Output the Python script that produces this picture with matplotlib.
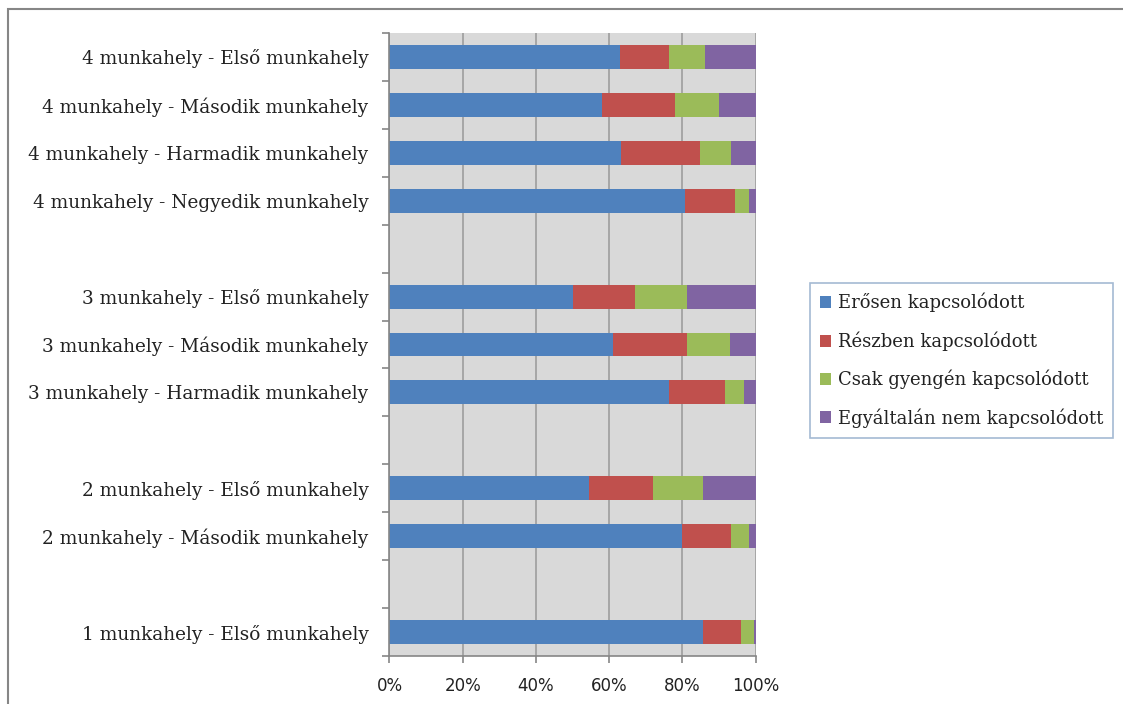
import matplotlib.pyplot as plt
import matplotlib.patches as patches
from matplotlib.ticker import PercentFormatter
import numpy as np

# Categories top to bottom ('' = empty separator row)
categories = [
    '4 munkahely - Első munkahely',
    '4 munkahely - Második munkahely',
    '4 munkahely - Harmadik munkahely',
    '4 munkahely - Negyedik munkahely',
    '',
    '3 munkahely - Első munkahely',
    '3 munkahely - Második munkahely',
    '3 munkahely - Harmadik munkahely',
    '',
    '2 munkahely - Első munkahely',
    '2 munkahely - Második munkahely',
    '',
    '1 munkahely - Első munkahely',
]

# Share of answers (%) per category
erosen = [62.9, 58.0, 63.1, 80.8, 0, 50.1, 61.0, 76.3, 0, 54.5, 79.8, 0, 85.6]
reszben = [13.4, 20.0, 21.6, 13.5, 0, 17.0, 20.2, 15.4, 0, 17.4, 13.6, 0, 10.3]
gyengen = [10.0, 12.1, 8.7, 3.9, 0, 14.1, 11.9, 5.2, 0, 13.7, 4.8, 0, 3.6]
egyaltalan = [13.7, 9.9, 6.6, 1.8, 0, 18.8, 6.9, 3.1, 0, 14.4, 1.8, 0, 0.5]

series_names = ['Erősen kapcsolódott', 'Részben kapcsolódott',
                'Csak gyengén kapcsolódott', 'Egyáltalán nem kapcsolódott']
colors = ['#4F81BD', '#C0504D', '#9BBB59', '#8064A2']

fig = plt.figure(figsize=(11.23, 7.04), dpi=100)
ax = fig.add_axes([0.3468, 0.0682, 0.3261, 0.8849])

y = np.arange(len(categories))
left = np.zeros(len(categories))
for name, vals, col in zip(series_names, [erosen, reszben, gyengen, egyaltalan], colors):
    vals = np.array(vals, dtype=float)
    ax.barh(y, vals, left=left, height=0.5, color=col, label=name)
    left += vals

ax.set_facecolor('#D9D9D9')
ax.set_xlim(0, 100)
ax.set_ylim(len(categories) - 0.5, -0.5)
ax.set_axisbelow(True)
ax.grid(axis='x', color='#A6A6A6', linewidth=1.4)
ax.xaxis.set_major_formatter(PercentFormatter(decimals=0))
ax.set_xticks([0, 20, 40, 60, 80, 100])

# labels at bar centres, tick marks at category boundaries
ax.set_yticks(y)
ax.set_yticklabels(categories, family='DejaVu Serif', fontsize=13.3, color='#222222')
ax.tick_params(axis='y', which='major', length=0, pad=15)
ax.set_yticks(np.arange(-0.5, len(categories)), minor=True)
ax.tick_params(axis='y', which='minor', length=5, color='#868686', width=1.2)
ax.tick_params(axis='x', length=5, color='#868686', width=1.2, pad=10,
               labelsize=12, labelcolor='#222222')

for s in ['top', 'right']:
    ax.spines[s].set_visible(False)
for s in ['left', 'bottom']:
    ax.spines[s].set_color('#868686')
    ax.spines[s].set_linewidth(1.2)

leg = fig.legend(loc='upper left', bbox_to_anchor=(0.721, 0.598),
                 prop={'family': 'DejaVu Serif', 'size': 13},
                 handlelength=0.65, handleheight=0.65, handletextpad=0.35,
                 labelspacing=1.05, borderpad=0.55, fancybox=False,
                 edgecolor='#8EA9C8', borderaxespad=0)
leg.get_frame().set_linewidth(1.2)
for t in leg.get_texts():
    t.set_color('#222222')

# outer chart border
fig.patches.append(patches.Rectangle((0.0071, -0.1), 1.2, 1.0872,
                                     transform=fig.transFigure, fill=False,
                                     edgecolor='#868686', linewidth=1.5))

fig.savefig('out.png', dpi=100)
